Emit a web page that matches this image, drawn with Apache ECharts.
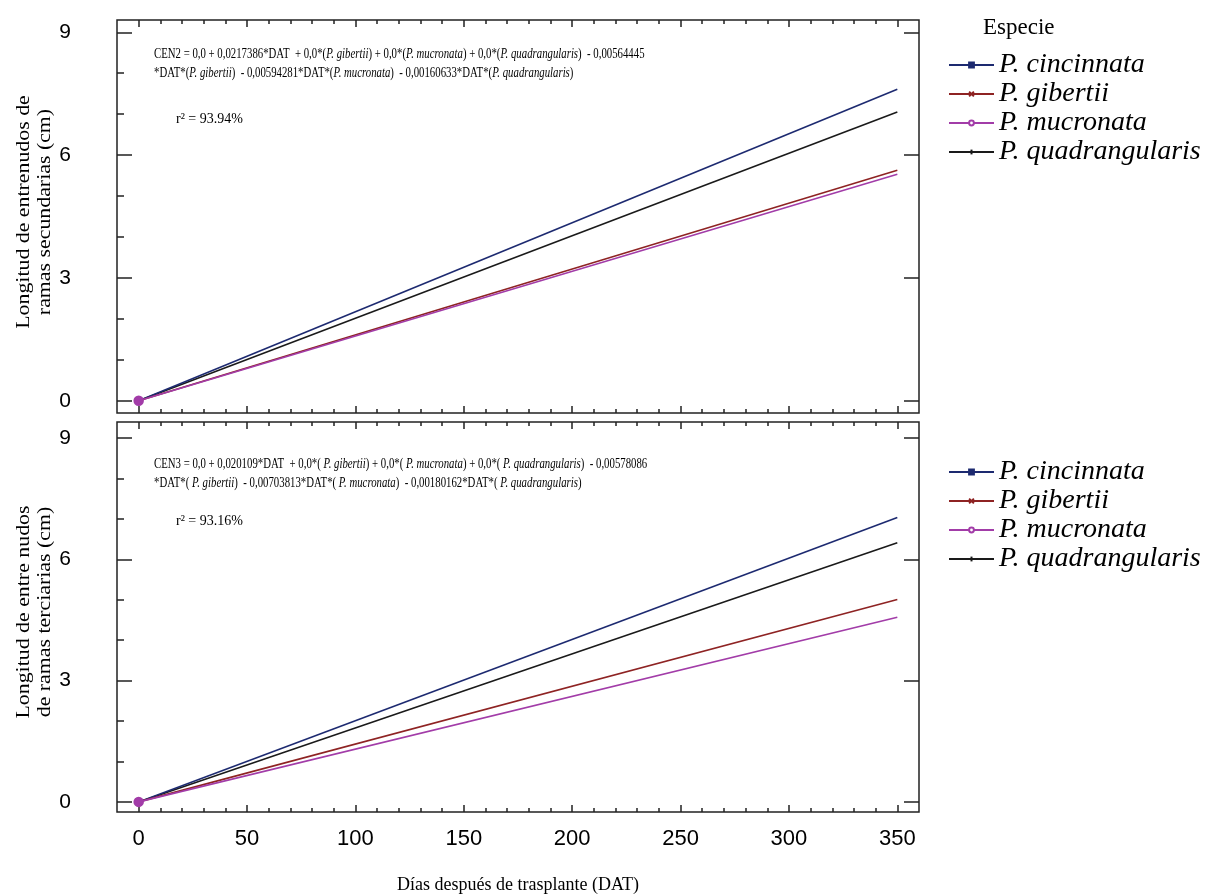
<!DOCTYPE html>
<html>
<head>
<meta charset="utf-8">
<script src="https://cdn.jsdelivr.net/npm/echarts@6/dist/echarts.min.js"></script>
<style>
  html, body { margin: 0; padding: 0; background: #fff; }
  #chart { width: 1212px; height: 896px; }
</style>
</head>
<body>
<div id="chart"></div>
<script>
// datos
const especies = ["P. cincinnata", "P. gibertii", "P. mucronata", "P. quadrangularis"];
const dias = [0, 350];
// ramas secundarias
const secCincinnata = [0, 7.61];
const secGibertii = [0, 5.63];
const secMucronata = [0, 5.53];
const secQuadrangularis = [0, 7.05];
// ramas terciarias
const terCincinnata = [0, 7.04];
const terGibertii = [0, 5.01];
const terMucronata = [0, 4.57];
const terQuadrangularis = [0, 6.41];
// ticks
const xMajor = [0, 50, 100, 150, 200, 250, 300, 350];
const xMinor = [10, 20, 30, 40, 60, 70, 80, 90, 110, 120, 130, 140, 160, 170, 180, 190, 210, 220, 230, 240, 260, 270, 280, 290, 310, 320, 330, 340];
const yMajor = [0, 3, 6, 9];
const yMinor = [1, 2, 4, 5, 7, 8];

const colores = ["#1d2a70", "#8e2323", "#a23ca8", "#1a1a1a"];
const simbolos = ["rect", "path://M0,0L10,10M10,0L0,10", "emptyCircle", "path://M5,0L5,10M0,5L0,5M10,5L10,5"];
const tamanos = [5, 6, 8, 8];

const serif = "'Liberation Serif', 'DejaVu Serif', serif";
const sans = "'Liberation Sans', Arial, sans-serif";
const ink = "#222";

function xAxisDef(grid, pos, ticks, len, labels) {
  return {
    type: "value", gridIndex: grid, position: pos, min: -10, max: 360,
    axisLine: { show: false, onZero: false },
    splitLine: { show: false },
    axisTick: { show: true, inside: true, length: len, customValues: ticks, lineStyle: { color: ink, width: 1.5 } },
    axisLabel: { show: labels, customValues: ticks, margin: 16, color: "#000", fontSize: 22, fontFamily: sans }
  };
}
function yAxisDef(grid, pos, ticks, len, labels, min, max) {
  return {
    type: "value", gridIndex: grid, position: pos, min: min, max: max,
    axisLine: { show: false, onZero: false },
    splitLine: { show: false },
    axisTick: { show: true, inside: true, length: len, customValues: ticks, lineStyle: { color: ink, width: 1.5 } },
    axisLabel: { show: labels, customValues: ticks, margin: 46, color: "#000", fontSize: 21, fontFamily: sans }
  };
}

function serie(i, vals, xi, yi) {
  // solo el primer punto lleva marcador
  const primero = i === 2 ? { symbol: "circle", symbolSize: 9 } : {};
  return {
    name: especies[i], type: "line", xAxisIndex: xi, yAxisIndex: yi,
    symbol: simbolos[i], symbolSize: tamanos[i],
    color: colores[i],
    lineStyle: { color: colores[i], width: 1.6 },
    itemStyle: { color: colores[i], borderColor: colores[i], borderWidth: 1.5 },
    data: dias.map((d, k) => k === 0 ? Object.assign({ value: [d, vals[k]] }, primero) : { value: [d, vals[k]], symbol: "none" }),
    z: i === 2 ? 5 : 3,
    animation: false
  };
}

const legendaBase = {
  orient: "vertical", left: 948, padding: 0, itemWidth: 45, itemHeight: 6, itemGap: 1,
  textStyle: { fontFamily: serif, fontStyle: "italic", fontSize: 28, color: "#000" },
  data: especies
};

const eq1 = "{n|CEN2 = 0,0 + 0,0217386*DAT  + 0,0*(}{i|P. gibertii}{n|) + 0,0*(}{i|P. mucronata}{n|) + 0,0*(}{i|P. quadrangularis}{n|)  - 0,00564445}\n" +
  "{n|*DAT*(}{i|P. gibertii}{n|)  - 0,00594281*DAT*(}{i|P. mucronata}{n|)  - 0,00160633*DAT*(}{i|P. quadrangularis}{n|)}";
const eq2 = "{n|CEN3 = 0,0 + 0,020109*DAT  + 0,0*( }{i|P. gibertii}{n|) + 0,0*( }{i|P. mucronata}{n|) + 0,0*( }{i|P. quadrangularis}{n|)  - 0,00578086}\n" +
  "{n|*DAT*( }{i|P. gibertii}{n|)  - 0,00703813*DAT*( }{i|P. mucronata}{n|)  - 0,00180162*DAT*( }{i|P. quadrangularis}{n|)}";
const richEq = {
  n: { fontFamily: serif, fontSize: 14, color: "#000", lineHeight: 19 },
  i: { fontFamily: serif, fontSize: 14, fontStyle: "italic", color: "#000", lineHeight: 19 }
};

const option = {
  backgroundColor: "#fff",
  animation: false,
  grid: [
    { left: 117, top: 20, width: 802, height: 393, show: true, borderColor: ink, borderWidth: 1.5 },
    { left: 117, top: 422, width: 802, height: 390, show: true, borderColor: ink, borderWidth: 1.5 }
  ],
  xAxis: [
    xAxisDef(0, "bottom", xMajor, 7, false),
    xAxisDef(0, "bottom", xMinor, 4, false),
    xAxisDef(0, "top", xMajor, 7, false),
    xAxisDef(0, "top", xMinor, 4, false),
    xAxisDef(1, "bottom", xMajor, 7, true),
    xAxisDef(1, "bottom", xMinor, 4, false),
    xAxisDef(1, "top", xMajor, 7, false),
    xAxisDef(1, "top", xMinor, 4, false)
  ],
  yAxis: [
    yAxisDef(0, "left", yMajor, 15, true, -0.3, 9.3),
    yAxisDef(0, "left", yMinor, 7, false, -0.3, 9.3),
    yAxisDef(0, "right", yMajor, 15, false, -0.3, 9.3),
    yAxisDef(1, "left", yMajor, 15, true, -0.25, 9.4),
    yAxisDef(1, "left", yMinor, 7, false, -0.25, 9.4),
    yAxisDef(1, "right", yMajor, 15, false, -0.25, 9.4)
  ],
  legend: [
    Object.assign({}, legendaBase, { top: 51 }),
    Object.assign({}, legendaBase, { top: 458 })
  ],
  series: [
    serie(3, secQuadrangularis, 0, 0),
    serie(0, secCincinnata, 0, 0),
    serie(1, secGibertii, 0, 0),
    serie(2, secMucronata, 0, 0),
    serie(3, terQuadrangularis, 4, 3),
    serie(0, terCincinnata, 4, 3),
    serie(1, terGibertii, 4, 3),
    serie(2, terMucronata, 4, 3)
  ],
  graphic: [
    { type: "text", left: 154, top: 47, scaleX: 0.77, style: { text: eq1, rich: richEq } },
    { type: "text", left: 176, top: 112, style: { text: "r² = 93.94%", font: "14px " + serif, fill: "#000" } },
    { type: "text", left: 154, top: 457, scaleX: 0.77, style: { text: eq2, rich: richEq } },
    { type: "text", left: 176, top: 514, style: { text: "r² = 93.16%", font: "14px " + serif, fill: "#000" } },
    { type: "text", left: 983, top: 16, style: { text: "Especie", font: "23px " + serif, fill: "#000" } },
    { type: "text", x: 35, y: 212, rotation: Math.PI / 2, scaleX: 1.15,
      style: { text: "Longitud de entrenudos de\nramas secundarias (cm)", font: "19px " + serif, fill: "#000", align: "center", verticalAlign: "middle", lineHeight: 21 } },
    { type: "text", x: 35, y: 612, rotation: Math.PI / 2, scaleX: 1.15,
      style: { text: "Longitud de entre nudos\nde ramas terciarias (cm)", font: "19px " + serif, fill: "#000", align: "center", verticalAlign: "middle", lineHeight: 21 } },
    { type: "text", x: 518, y: 885, style: { text: "Días después de trasplante (DAT)", font: "18px " + serif, fill: "#000", align: "center", verticalAlign: "middle" } }
  ]
};

const chart = echarts.init(document.getElementById("chart"), null, { renderer: "canvas" });
chart.setOption(option);
</script>
</body>
</html>
